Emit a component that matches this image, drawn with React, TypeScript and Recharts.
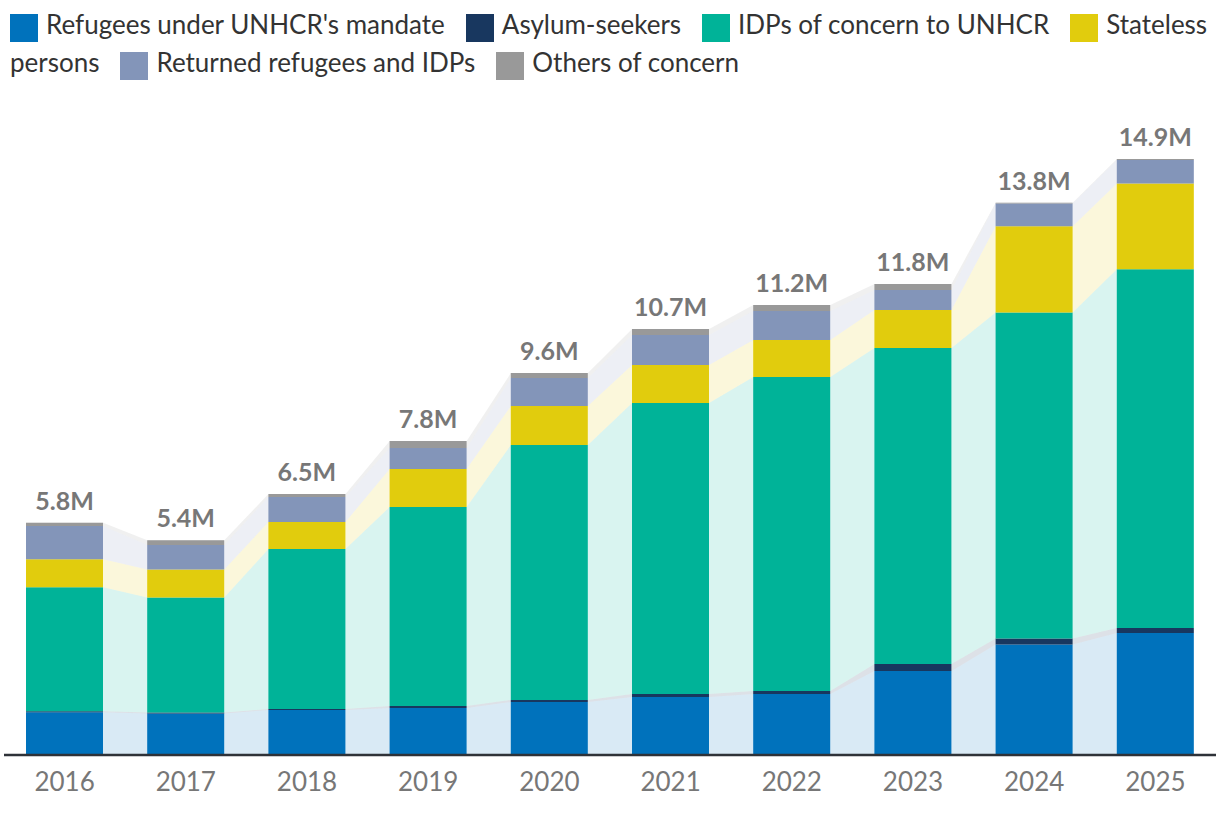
import React from "react";
import { ComposedChart, Area, Bar, XAxis, YAxis, LabelList } from "recharts";

// values in millions
const years = ["2016", "2017", "2018", "2019", "2020", "2021", "2022", "2023", "2024", "2025"];
const refugees = [1.07, 1.04, 1.125, 1.175, 1.325, 1.45, 1.525, 2.1, 2.76, 3.05];
const asylumSeekers = [0.025, 0.02, 0.025, 0.05, 0.05, 0.075, 0.075, 0.175, 0.153, 0.123];
const idps = [3.1, 2.88, 4.0, 4.975, 6.375, 7.275, 7.85, 7.9, 8.15, 8.97];
const stateless = [0.7, 0.7, 0.675, 0.95, 0.975, 0.95, 0.925, 0.95, 2.155, 2.145];
const returned = [0.83, 0.61, 0.625, 0.525, 0.7, 0.75, 0.725, 0.5, 0.57, 0.59];
const others = [0.08, 0.12, 0.075, 0.175, 0.125, 0.15, 0.15, 0.15, 0.02, 0.02];
const totals = ["5.8M", "5.4M", "6.5M", "7.8M", "9.6M", "10.7M", "11.2M", "11.8M", "13.8M", "14.9M"];

const series = [
  { key: "refugees", name: "Refugees under UNHCR's mandate", color: "#0072BC", values: refugees },
  { key: "asylum", name: "Asylum-seekers", color: "#18375F", values: asylumSeekers },
  { key: "idps", name: "IDPs of concern to UNHCR", color: "#00B398", values: idps },
  { key: "stateless", name: "Stateless persons", color: "#E1CC0D", values: stateless },
  { key: "returned", name: "Returned refugees and IDPs", color: "#8395B9", values: returned },
  { key: "others", name: "Others of concern", color: "#999999", values: others },
];

const BAR_PX = 77;
const HALF = 0.3177; // half a bar, in slot units, so the bridges start at the bar edges

// three rows per year: left edge, centre, right edge. bars only use the centre row
const data = years.flatMap((_, i) =>
  [-HALF, 0, HALF].map((d) => {
    const row: Record<string, any> = { slot: i, pos: i + d, label: d === 0 ? totals[i] : null };
    series.forEach((s) => {
      row[s.key] = s.values[i];
      row[s.key + "Bar"] = d === 0 ? s.values[i] : null;
    });
    return row;
  })
);

const slotTicks = years.map((_, i) => i);

const renderTotal = (props: any) => {
  const vb = props.viewBox ?? props;
  const { x, y, width } = vb;
  if (props.value == null || x == null) return null;
  return (
    <text
      x={x + width / 2}
      y={y - 13}
      textAnchor="middle"
      fill="#777777"
      fontSize={25}
      fontWeight={700}
      fontFamily="Lato"
    >
      {props.value}
    </text>
  );
};

export default function App() {
  return (
    <div style={{ position: "absolute", left: 0, top: 0, width: 1220, height: 816, background: "#fff", fontFamily: "Lato" }}>
      <ComposedChart width={1220} height={816} data={data} margin={{ top: 115, right: 4, bottom: 11, left: 4 }}>
        <XAxis xAxisId="pos" dataKey="pos" type="number" domain={[-0.5, 9.5]} hide height={0} orientation="top" />
        <XAxis
          xAxisId="slot"
          dataKey="slot"
          type="number"
          domain={[-0.5, 9.5]}
          ticks={slotTicks}
          tickFormatter={(v) => years[v]}
          tickLine={false}
          axisLine={{ stroke: "#2e3238", strokeWidth: 2.5 }}
          tick={{ fill: "#777777", fontSize: 26, fontFamily: "Lato" }}
          tickMargin={12}
          height={50}
          interval={0}
        />
        <YAxis hide domain={[0, 16]} />
        {series.map((s) => (
          <Area
            key={s.key + "-area"}
            xAxisId="pos"
            type="linear"
            dataKey={s.key}
            stackId="bridge"
            fill={s.color}
            fillOpacity={0.15}
            stroke="none"
            isAnimationActive={false}
          />
        ))}
        {series.map((s, idx) => (
          <Bar
            key={s.key + "-bar"}
            xAxisId="slot"
            dataKey={s.key + "Bar"}
            stackId="bars"
            fill={s.color}
            barSize={BAR_PX}
            isAnimationActive={false}
          >
            {idx === series.length - 1 && <LabelList dataKey="label" content={renderTotal} />}
          </Bar>
        ))}
      </ComposedChart>

      <div
        style={{
          position: "absolute",
          left: 10,
          top: 5,
          width: 1210,
          fontSize: 26,
          lineHeight: "38px",
          color: "#333333",
        }}
      >
        {series.map((s) => (
          <span key={s.key}>
            <span
              style={{
                display: "inline-block",
                width: 28,
                height: 28,
                background: s.color,
                verticalAlign: "-8px",
                marginRight: 8,
              }}
            />
            <span style={{ marginRight: 21 }}>{s.name}</span>
          </span>
        ))}
      </div>
    </div>
  );
}
